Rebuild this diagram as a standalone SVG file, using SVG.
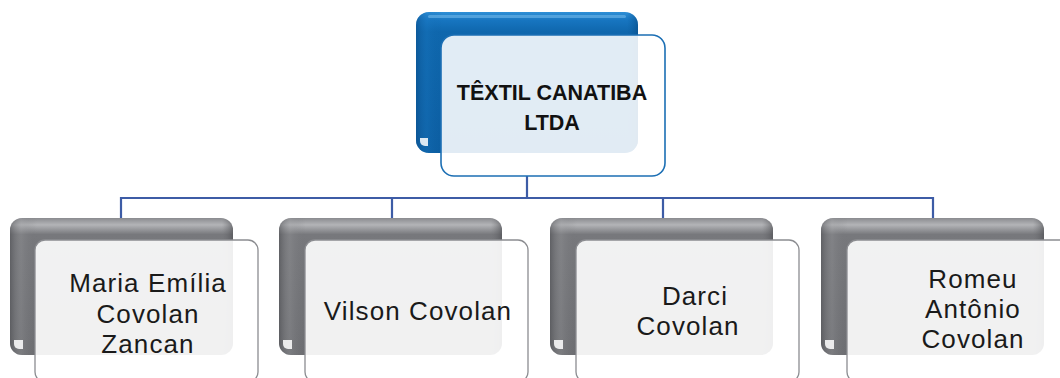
<svg xmlns="http://www.w3.org/2000/svg" width="1060" height="378" viewBox="0 0 1060 378">
<defs>
<linearGradient id="gBlue" x1="0" y1="0" x2="0" y2="1">
<stop offset="0" stop-color="#2f8fd6"/>
<stop offset="0.06" stop-color="#1775c0"/>
<stop offset="0.14" stop-color="#0f67ad"/>
<stop offset="1" stop-color="#0c5ea2"/>
</linearGradient>
<linearGradient id="gBlueSide" x1="0" y1="0" x2="1" y2="0">
<stop offset="0" stop-color="#0a4f8c" stop-opacity="0.6"/>
<stop offset="0.05" stop-color="#1a78c2" stop-opacity="0.3"/>
<stop offset="0.12" stop-color="#0b5c9e" stop-opacity="0"/>
<stop offset="0.95" stop-color="#0b5c9e" stop-opacity="0"/>
<stop offset="1" stop-color="#084b85" stop-opacity="0.6"/>
</linearGradient>
<linearGradient id="gGray" x1="0" y1="0" x2="0" y2="1">
<stop offset="0" stop-color="#8a8b8f"/>
<stop offset="0.05" stop-color="#b3b4b7"/>
<stop offset="0.12" stop-color="#77787c"/>
<stop offset="1" stop-color="#6d6e72"/>
</linearGradient>
<linearGradient id="gGraySide" x1="0" y1="0" x2="1" y2="0">
<stop offset="0" stop-color="#505155" stop-opacity="0.6"/>
<stop offset="0.05" stop-color="#9a9b9e" stop-opacity="0.3"/>
<stop offset="0.12" stop-color="#6d6e72" stop-opacity="0"/>
<stop offset="0.95" stop-color="#6d6e72" stop-opacity="0"/>
<stop offset="1" stop-color="#4a4b4f" stop-opacity="0.6"/>
</linearGradient>
</defs>
<style>
.conn{fill:none;stroke:#3d5ca6;stroke-width:2.2}
.backB{fill:url(#gBlue)}
.sideB{fill:url(#gBlueSide)}
.frontB{fill:#ffffff;fill-opacity:0.88;stroke:#1c6fb4;stroke-width:1.6}
.backG{fill:url(#gGray)}
.sideG{fill:url(#gGraySide)}
.frontG{fill:#ffffff;fill-opacity:0.9;stroke:#8c8d91;stroke-width:1.3}
.hl{fill:#ffffff;fill-opacity:0.85}
.title{font-family:"Liberation Sans",Arial,sans-serif;font-weight:bold;font-size:21.5px;fill:#111;text-anchor:middle}
.name{font-family:"Liberation Sans",Arial,sans-serif;font-size:26px;letter-spacing:1.1px;fill:#1a1a1a;text-anchor:middle}
</style>
<g id="connectors">
<path class="conn" d="M527 176 V198 M121 198 H933 M121 197 V218 M392 197 V218 M663 197 V218 M933 197 V218"/>
</g>
<g id="node-top">
<rect class="backB" x="416" y="12" width="222" height="141" rx="13"/>
<rect class="sideB" x="416" y="12" width="222" height="141" rx="13"/>
<rect x="428" y="15" width="198" height="3" rx="1.5" fill="#6fb8ea" fill-opacity="0.6"/>
<path class="hl" d="M420 138 h8 v8 h-3 a5 5 0 0 1 -5 -5 z"/>
<rect class="frontB" x="441" y="35" width="224" height="141" rx="13"/>
<text class="title" x="552" y="100">TÊXTIL CANATIBA</text>
<text class="title" x="552" y="130">LTDA</text>
</g>
<g id="node-maria">
<rect class="backG" x="10" y="218" width="223" height="137" rx="12"/>
<rect class="sideG" x="10" y="218" width="223" height="137" rx="12"/>
<path class="hl" d="M14 340 h9 v9 h-4 a5 5 0 0 1 -5 -5 z"/>
<rect class="frontG" x="35" y="240" width="223" height="142" rx="10"/>
<text class="name" x="148" y="292">Maria Emília</text>
<text class="name" x="148" y="323">Covolan</text>
<text class="name" x="148" y="353">Zancan</text>
</g>
<g id="node-vilson">
<rect class="backG" x="279" y="218" width="223" height="137" rx="12"/>
<rect class="sideG" x="279" y="218" width="223" height="137" rx="12"/>
<path class="hl" d="M283 340 h9 v9 h-4 a5 5 0 0 1 -5 -5 z"/>
<rect class="frontG" x="305" y="240" width="223" height="142" rx="10"/>
<text class="name" x="418" y="320">Vilson Covolan</text>
</g>
<g id="node-darci">
<rect class="backG" x="550" y="218" width="223" height="137" rx="12"/>
<rect class="sideG" x="550" y="218" width="223" height="137" rx="12"/>
<path class="hl" d="M554 340 h9 v9 h-4 a5 5 0 0 1 -5 -5 z"/>
<rect class="frontG" x="576" y="240" width="223" height="142" rx="10"/>
<text class="name" x="695" y="305">Darci</text>
<text class="name" x="688" y="335">Covolan</text>
</g>
<g id="node-romeu">
<rect class="backG" x="821" y="218" width="223" height="137" rx="12"/>
<rect class="sideG" x="821" y="218" width="223" height="137" rx="12"/>
<path class="hl" d="M825 340 h9 v9 h-4 a5 5 0 0 1 -5 -5 z"/>
<rect class="frontG" x="847" y="240" width="223" height="142" rx="10"/>
<text class="name" x="973" y="288">Romeu</text>
<text class="name" x="973" y="318">Antônio</text>
<text class="name" x="973" y="348">Covolan</text>
</g>
</svg>
